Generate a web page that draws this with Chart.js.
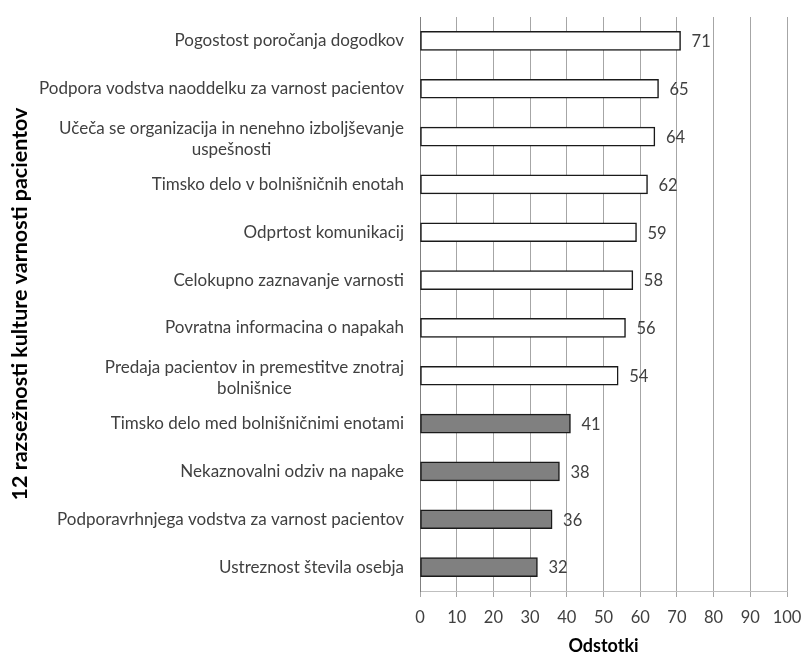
<!DOCTYPE html>
<html>
<head>
<meta charset="utf-8">
<script src="https://cdn.jsdelivr.net/npm/chart.js@4/dist/chart.umd.min.js"></script>
<style>
html,body{margin:0;padding:0;background:#fff;}
#wrap{width:802px;height:655px;position:relative;}
</style>
</head>
<body>
<div id="wrap"><canvas id="c" width="802" height="655"></canvas></div>
<script>
const categories = [
  "Pogostost poročanja dogodkov",
  "Podpora vodstva naoddelku za varnost pacientov",
  ["Učeča se organizacija in nenehno izboljševanje", "uspešnosti"],
  "Timsko delo v bolnišničnih enotah",
  "Odprtost komunikacij",
  "Celokupno zaznavanje varnosti",
  "Povratna informacina o napakah",
  ["Predaja pacientov in premestitve znotraj", "bolnišnice"],
  "Timsko delo med bolnišničnimi enotami",
  "Nekaznovalni odziv na napake",
  "Podporavrhnjega vodstva za varnost pacientov",
  "Ustreznost števila osebja"
];
const values = [71, 65, 64, 62, 59, 58, 56, 54, 41, 38, 36, 32];
const strong = [true, true, true, true, true, true, true, true, false, false, false, false];
const xTicks = [0, 10, 20, 30, 40, 50, 60, 70, 80, 90, 100];
const yTitle = "12 razsežnosti kulture varnosti pacientov";
const xTitle = "Odstotki";

const FONT = "Lato, 'Open Sans', sans-serif";
const TXT = "#404040";

const labelPlugin = {
  id: 'valLabels',
  afterDraw(chart) {
    const ctx = chart.ctx;
    const meta = chart.getDatasetMeta(0);
    const yScale = chart.scales.y;
    const xScale = chart.scales.x;
    ctx.save();
    // value labels
    ctx.font = "16.5px " + FONT;
    ctx.fillStyle = TXT;
    ctx.textAlign = "left";
    ctx.textBaseline = "middle";
    meta.data.forEach((bar, i) => {
      ctx.fillText(String(values[i]), bar.x + 11, bar.y + 1);
    });
    // category labels (multi-line centred on each other, block right-aligned)
    ctx.font = "17px " + FONT;
    ctx.fillStyle = TXT;
    const rightX = yScale.right - 16;
    const lh = 21;
    categories.forEach((lab, i) => {
      const lines = Array.isArray(lab) ? lab : [lab];
      const y = yScale.getPixelForValue(i) + (lines.length > 1 ? 2 : 0);
      const maxW = Math.max(...lines.map(l => ctx.measureText(l).width));
      const cx = rightX - maxW / 2;
      ctx.textAlign = "center";
      lines.forEach((l, k) => {
        const ly = y + (k - (lines.length - 1) / 2) * lh;
        ctx.fillText(l, cx, ly);
      });
    });
    // x-axis title
    ctx.font = "bold 18px " + FONT;
    ctx.fillStyle = "#000";
    ctx.textAlign = "center";
    ctx.textBaseline = "middle";
    ctx.fillText(xTitle, (xScale.left + xScale.right) / 2, xScale.top + 55);
    // y-axis title
    ctx.font = "bold 21.5px " + FONT;
    ctx.translate(20, (yScale.top + yScale.bottom) / 2);
    ctx.rotate(-Math.PI / 2);
    ctx.fillText(yTitle, 0, 0);
    ctx.restore();
  }
};

new Chart(document.getElementById('c'), {
  type: 'bar',
  data: {
    labels: categories,
    datasets: [{
      data: values,
      backgroundColor: strong.map(s => s ? '#ffffff' : '#808080'),
      borderColor: '#1a1a1a',
      borderWidth: 1.5,
      borderSkipped: false,
      barThickness: 19
    }]
  },
  options: {
    indexAxis: 'y',
    responsive: false,
    animation: false,
    devicePixelRatio: 1,
    layout: { padding: { top: 17, right: 15, left: 0, bottom: 0 } },
    plugins: { legend: { display: false }, tooltip: { enabled: false } },
    scales: {
      x: {
        min: 0, max: 100,
        afterBuildTicks(scale) { scale.ticks = xTicks.map(v => ({ value: v })); },
        afterFit(scale) { scale.height = 64; scale.paddingLeft = 0; scale.paddingRight = 0; },
        grid: { color: '#a6a6a6', lineWidth: 1, tickLength: 6, drawTicks: true },
        border: { color: '#bfbfbf', width: 1 },
        ticks: { font: { size: 16.5, family: FONT }, color: TXT, padding: 11, maxRotation: 0 },
        title: { display: false }
      },
      y: {
        afterFit(scale) { scale.width = 420; scale.paddingTop = 0; scale.paddingBottom = 0; },
        grid: { display: false, drawTicks: false },
        border: { display: true, color: '#808080', width: 1 },
        ticks: { display: false }
      }
    }
  },
  plugins: [labelPlugin]
});
</script>
</body>
</html>
